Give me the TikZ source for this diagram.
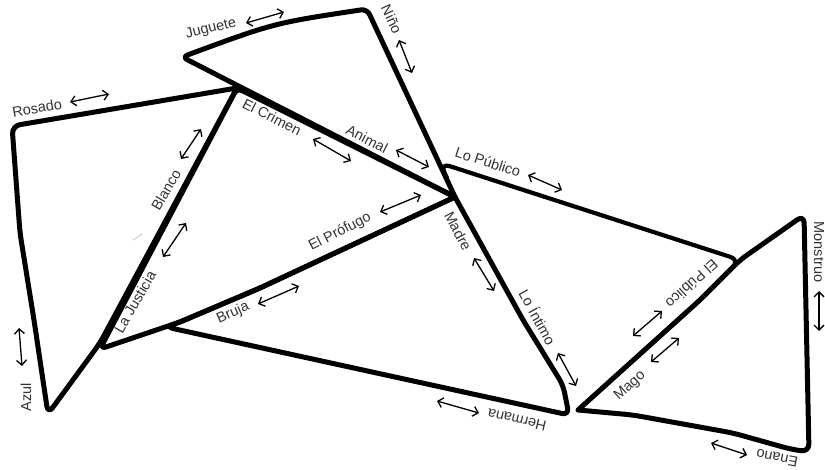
\documentclass[tikz,border=0pt]{standalone}
\usepackage{fontspec}
\setmainfont{Liberation Sans}
\usetikzlibrary{arrows.meta}
\begin{document}
\begin{tikzpicture}[x=1pt,y=-1pt,
  edge/.style={line width=5pt, line join=round, line cap=round, black},
  lbl/.style={font=\fontsize{14.5}{16}\selectfont, text=black!80, inner sep=0pt},
  dbl/.style={line width=1.3pt, black, {Straight Barb[length=5pt,width=10pt]}-{Straight Barb[length=5pt,width=10pt]}}]
\useasboundingbox (0,0) rectangle (825,469);
\fill[white] (0,0) rectangle (825,469);

% named corner points
\coordinate (A) at (182,57);
\coordinate (B) at (367,9);
\coordinate (C) at (455,197);
\coordinate (D) at (237,88);
\coordinate (E) at (12,126);
\coordinate (F) at (48,414);
\coordinate (G) at (100,349);
\coordinate (H) at (166,327);
\coordinate (I) at (569,415);
\coordinate (P) at (440,163);
\coordinate (J) at (740,260);
\coordinate (K) at (804,215);
\coordinate (L) at (809,452);
\coordinate (M) at (578,410);

% triangles
\draw[edge, rounded corners=6] (C) -- (A) .. controls (274,23) .. (B) -- (C);
\draw[edge, rounded corners=8] (D) -- (E) -- (20,233) -- (34,320) -- (F) -- (100,343) -- (D);
\draw[edge, rounded corners=6] (C) -- (260,288) -- (180,322) -- (G) -- (D) -- (C);
\draw[edge, rounded corners=7] (C) -- (260,288) -- (180,322) -- (H) -- (I) -- (563,385) -- (523,320) -- (C);
\draw[edge, line width=4.2pt, rounded corners=10] (447,178) -- (P) -- (J) -- (700,300) -- (M);
\draw[edge, rounded corners=8] (M) -- (700,300) -- (J) -- (K) -- (L) -- (790,449) -- (733,433) -- (633,415) -- (M);

% faint stray mark
\draw[black!25, line width=0.7pt] (133,240) -- (142,234);

% labels
\node[lbl, rotate=14] (juguete) at (211,29) {Juguete};
\node[lbl, rotate=-65, anchor=east] (nino) at (398,33) {Niño};
\node[lbl, rotate=10] (rosado) at (37,108) {Rosado};
\node[lbl, rotate=-27] (crimen) at (272,117) {El Crimen};
\node[lbl, rotate=-27] (animal) at (367,139) {Animal};
\node[lbl, rotate=-18] (lopublico) at (488,162) {Lo Público};
\node[lbl, rotate=60] (blanco) at (166,190) {Blanco};
\node[lbl, rotate=60] (justicia) at (135,302) {La Justicia};
\node[lbl, rotate=90] (azul) at (26,397) {Azul};
\node[lbl, rotate=24] (bruja) at (233,313) {Bruja};
\node[lbl, rotate=27] (profugo) at (340,232) {El Prófugo};
\node[lbl, rotate=-62] (madre) at (458,231) {Madre};
\node[lbl, rotate=-61] (intimo) at (538,317) {Lo Íntimo};
\node[lbl, rotate=167] (hermana) at (517,420) {Hermana};
\node[lbl, rotate=42] (mago) at (630,386) {Mago};
\node[lbl, rotate=222] (elpublico) at (692,284) {El Público};
\node[lbl, rotate=-90] (monstruo) at (819,252) {Monstruo};
\node[lbl, rotate=169] (enano) at (777,458) {Enano};

% double arrows
\draw[dbl] (246,23) -- (284,12);
\draw[dbl] (399,40) -- (412,73);
\draw[dbl] (70,102) -- (109,94);
\draw[dbl] (313,139) -- (351,161);
\draw[dbl] (396,150) -- (429,167);
\draw[dbl] (528,175) -- (562,190);
\draw[dbl] (181,159) -- (201,129);
\draw[dbl] (163,257) -- (186,223);
\draw[dbl] (19,328) -- (22,366);
\draw[dbl] (258,304) -- (299,286);
\draw[dbl] (380,212) -- (421,195);
\draw[dbl] (474,258) -- (494,291);
\draw[dbl] (558,353) -- (576,386);
\draw[dbl] (437,401) -- (479,413);
\draw[dbl] (651,362) -- (679,338);
\draw[dbl] (633,336) -- (662,311);
\draw[dbl] (819,291) -- (819,331);
\draw[dbl] (711,443) -- (747,455);
\end{tikzpicture}
\end{document}
